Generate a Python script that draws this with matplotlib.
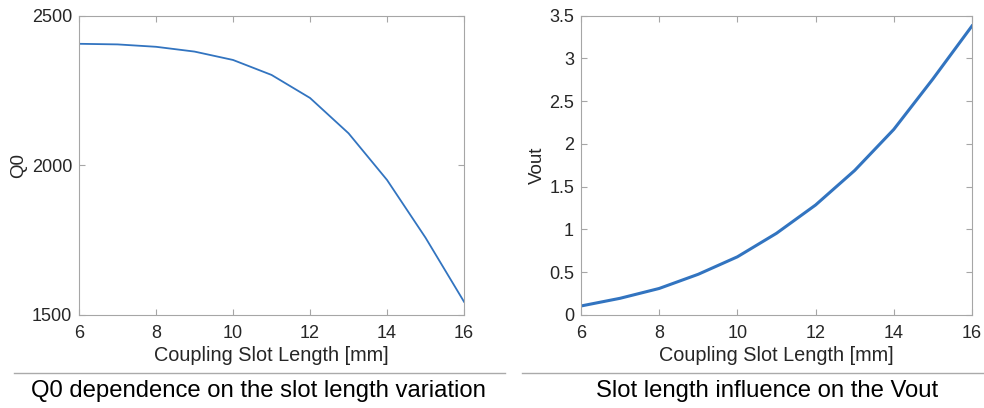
import matplotlib.pyplot as plt
from matplotlib.lines import Line2D

plt.rcParams['font.family'] = ['Liberation Sans', 'DejaVu Sans']

slot_mm = [6, 7, 8, 9, 10, 11, 12, 13, 14, 15, 16]
q0 = [2406, 2404, 2396, 2380, 2352, 2302, 2225, 2107, 1951, 1758, 1544]
vout = [0.105, 0.195, 0.31, 0.476, 0.68, 0.955, 1.286, 1.69, 2.17, 2.76, 3.38]

x_label = "Coupling Slot Length [mm]"
captions = ["Q0 dependence on the slot length variation",
            "Slot length influence on the Vout"]

line_color = '#3274c0'
spine_color = '#a6a6a6'
text_color = '#262626'

fig = plt.figure(figsize=(9.84, 4.08), dpi=100)
ax1 = fig.add_axes([0.0803, 0.228, 0.3913, 0.7336])
ax2 = fig.add_axes([0.5904, 0.228, 0.3974, 0.7336])


def style(ax, ylab, ylab_x):
    for s in ax.spines.values():
        s.set_color(spine_color)
        s.set_linewidth(0.8)
    ax.tick_params(direction='in', length=4, width=0.8, color=spine_color,
                   labelcolor=text_color, labelsize=13, top=True, right=True)
    ax.tick_params(axis='x', pad=7)
    ax.tick_params(axis='y', pad=5)
    ax.set_xlabel(x_label, fontsize=14.3, color=text_color, va='center')
    ax.xaxis.set_label_coords(0.5, -0.137)
    ax.set_ylabel(ylab, fontsize=13.5, color=text_color, va='center')
    ax.yaxis.set_label_coords(ylab_x, 0.5)


ax1.plot(slot_mm, q0, color=line_color, lw=1.3)
ax1.set_xlim(6, 16)
ax1.set_ylim(1500, 2500)
ax1.set_xticks([6, 8, 10, 12, 14, 16])
ax1.set_yticks([1500, 2000, 2500])
style(ax1, "Q0", -0.158)

ax2.plot(slot_mm, vout, color=line_color, lw=2.2)
ax2.set_xlim(6, 16)
ax2.set_ylim(0, 3.5)
ax2.set_xticks([6, 8, 10, 12, 14, 16])
ax2.set_yticks([0, 0.5, 1, 1.5, 2, 2.5, 3, 3.5])
ax2.set_yticklabels(['0', '0.5', '1', '1.5', '2', '2.5', '3', '3.5'])
style(ax2, "Vout", -0.1125)

# separator lines and captions under each panel
fig.add_artist(Line2D([0.0142, 0.513], [0.0858, 0.0858], color='#aaaaaa', lw=1))
fig.add_artist(Line2D([0.530, 1.0], [0.0858, 0.0858], color='#aaaaaa', lw=1))
fig.text(0.263, 0.042, captions[0], ha='center', va='center', fontsize=17.2, color='black')
fig.text(0.780, 0.042, captions[1], ha='center', va='center', fontsize=17.2, color='black')

fig.savefig("out.png", dpi=100)
